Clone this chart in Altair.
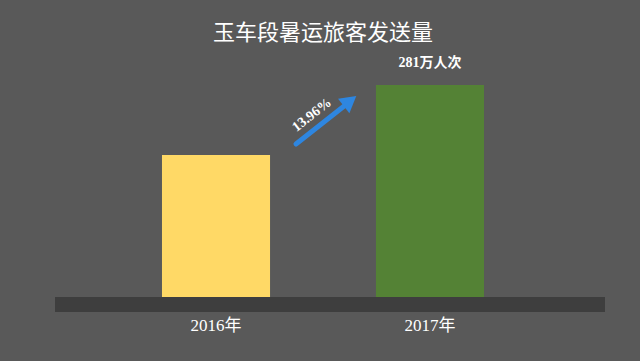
import altair as alt
import pandas as pd

years = ["2016年", "2017年"]
values = [246.6, 281]
bar_colors = ["#FFD966", "#548235"]
value_labels = ["", "281万人次"]
growth_label = "13.96%"
title_text = "玉车段暑运旅客发送量"

BASE = 176.8
df = pd.DataFrame({"year": years, "value": values, "color": bar_colors,
                   "label": value_labels, "base": [BASE] * len(years)})

x = alt.X("year:N", scale=alt.Scale(domain=years, range=[3, 643],
                                    paddingInner=0.495, paddingOuter=0.743),
          axis=None)
yscale = alt.Scale(domain=[145.4, 322.7], zero=False, nice=False)

FONT = "Liberation Serif, Noto Sans CJK SC"

base_strip = alt.Chart(pd.DataFrame({"a": [0]})).mark_rect(color="#3E3E3E").encode(
    x=alt.value(55), x2=alt.value(605), y=alt.value(297), y2=alt.value(312))

bars = alt.Chart(df).mark_bar().encode(
    x=x,
    y=alt.Y("value:Q", scale=yscale, axis=None),
    y2="base:Q",
    color=alt.Color("color:N", scale=None),
)

labels = alt.Chart(df).mark_text(color="white", fontSize=14, fontWeight="bold",
                                 font=FONT, dy=-22).encode(
    x=x, y=alt.Y("value:Q", scale=yscale, axis=None), text="label:N")

xlabels = alt.Chart(df).mark_text(color="white", fontSize=17, font=FONT).encode(
    x=x, y=alt.value(326), text="year:N")

title = alt.Chart(pd.DataFrame({"t": [title_text]})).mark_text(
    color="white", fontSize=22, font="Noto Sans CJK SC").encode(
    x=alt.value(323), y=alt.value(33), text="t:N")

arrow_line = alt.Chart(pd.DataFrame({"a": [0]})).mark_rule(
    color="#2E86E0", strokeWidth=5, strokeCap="round").encode(
    x=alt.value(296), y=alt.value(144), x2=alt.value(348), y2=alt.value(103))

arrow_head = alt.Chart(pd.DataFrame({"a": [0]})).mark_point(
    shape="triangle-up", filled=True, color="#2E86E0", size=340, angle=52, opacity=1).encode(
    x=alt.value(350), y=alt.value(101))

growth = alt.Chart(pd.DataFrame({"t": [growth_label]})).mark_text(
    color="white", fontSize=14, fontWeight="bold", font=FONT, angle=322).encode(
    x=alt.value(312), y=alt.value(115), text="t:N")

chart = alt.layer(base_strip, bars, labels, xlabels, title, arrow_line, arrow_head, growth).properties(
    width=640, height=361, background="#595959",
    autosize=alt.AutoSizeParams(type="none"), padding=0,
).configure_view(strokeWidth=0)

chart.save("out.html", embed_options={"renderer": "svg", "actions": False})
